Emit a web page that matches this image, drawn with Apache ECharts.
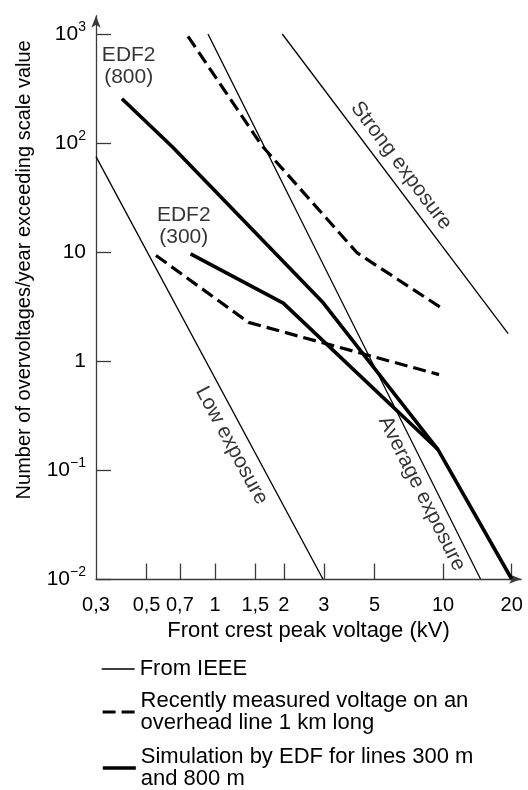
<!DOCTYPE html>
<html><head><meta charset="utf-8">
<script src="https://cdn.jsdelivr.net/npm/echarts@6/dist/echarts.min.js"></script>
<style>html,body{margin:0;padding:0;background:#fff}#c{width:528px;height:790px}</style>
</head><body><div id="c"></div>
<script>
// Axis ticks and labels
const xTicks = [0.3, 0.5, 0.7, 1, 1.5, 2, 3, 5, 10, 20];
const xTickLabels = ['0,3', '0,5', '0,7', '1', '1,5', '2', '3', '5', '10', '20'];
const yTicks = [0.01, 0.1, 1, 10, 100, 1000];
const yTickBase = ['10', '10', '1', '10', '10', '10'];
const yTickExp = ['−2', '−1', '', '', '2', '3'];

// IEEE exposure lines [kV, overvoltages/year]
const ieeeLow = [[0.3, 75], [2.97, 0.01]];
const ieeeAverage = [[0.93, 1000], [14.6, 0.01]];
const ieeeStrong = [[1.97, 1000], [19.3, 1.78]];
// Recently measured (dashed)
const measuredA = [[0.76, 950], [1.6, 95], [4.2, 9.8], [10.0, 3.0]];
const measuredB = [[0.55, 9.3], [1.4, 2.26], [9.6, 0.75]];
// EDF simulations (thick)
const edf800 = [[0.39, 255], [0.65, 92], [2.95, 3.5], [9.5, 0.154], [20, 0.01]];
const edf300 = [[0.78, 9.6], [1.99, 3.4], [9.5, 0.154]];

// Legend names
const legendNames = ['From IEEE', 'Recently measured voltage on an\noverhead line 1 km long', 'Simulation by EDF for lines 300 m\nand 800 m'];

// In-chart labels
const curveLabels = ['Strong exposure', 'Low exposure', 'Average exposure', 'EDF2\n(800)', 'EDF2\n(300)'];
const labelX = [6.55, 1.18, 8.07, 0.4175, 0.728];
const labelY = [61.9, 0.168, 0.0607, 506, 17.4];
const labelAngle = [-53.1, -61.7, -63.4, 0, 0];

const FONT = "'Liberation Sans', Arial, sans-serif";
const AXC = '#3a3a3a';

function lineSeries(name, data, style) {
  return { type: 'line', name: name, data: data, symbol: 'none', showSymbol: false, silent: true,
    lineStyle: Object.assign({ color: '#000' }, style), itemStyle: { color: '#000' } };
}
const thinS = { width: 1.3 };
const dashS = { width: 3.2, type: [13, 6] };
const thickS = { width: 3.6, cap: 'butt' };

function legendFor(i, top) {
  return {
    show: true, orient: 'vertical', left: 101, top: top, padding: 0,
    itemWidth: 33, itemHeight: 14, itemGap: 0,
    data: [legendNames[i]],
    itemStyle: { opacity: 0 },
    lineStyle: { width: 'inherit', type: 'inherit', color: '#000' },
    textStyle: { fontFamily: FONT, fontSize: 22, lineHeight: 22, color: '#000' },
    selectedMode: false
  };
}

const chart = echarts.init(document.getElementById('c'), null, { renderer: 'canvas' });
chart.setOption({
  animation: false,
  backgroundColor: '#fff',
  grid: { left: 96, right: 6.9, top: 15.7, bottom: 211, containLabel: false },
  xAxis: {
    type: 'log', min: 0.3, max: 22, logBase: 10,
    name: 'Front crest peak voltage (kV)', nameLocation: 'middle', nameGap: 37,
    nameTextStyle: { fontFamily: FONT, fontSize: 22, color: '#000' },
    axisLine: { show: true, lineStyle: { color: AXC, width: 1.3 }, symbol: ['none', 'arrow'], symbolSize: [7, 12] },
    axisTick: { show: true, inside: true, length: 15.5, customValues: xTicks.slice(1), lineStyle: { color: AXC, width: 1.3 } },
    axisLabel: { show: true, customValues: xTicks, margin: 16, fontFamily: FONT, fontSize: 20, color: '#000',
      formatter: function (v) { const i = xTicks.findIndex(t => Math.abs(t - v) < 1e-9); return i >= 0 ? xTickLabels[i] : ''; } },
    splitLine: { show: false }, minorTick: { show: false }
  },
  yAxis: {
    type: 'log', min: 0.01, max: 1472, logBase: 10,
    name: 'Number of overvoltages/year exceeding scale value', nameLocation: 'middle', nameGap: 62,
    nameTextStyle: { fontFamily: FONT, fontSize: 20, color: '#000', padding: [0, 0, 0, 55] },
    axisLine: { show: true, lineStyle: { color: AXC, width: 1.3 }, symbol: ['none', 'arrow'], symbolSize: [7, 12] },
    axisTick: { show: true, inside: true, length: 15, customValues: yTicks, lineStyle: { color: AXC, width: 1.3 } },
    axisLabel: { show: true, customValues: yTicks, margin: 10, color: '#000',
      formatter: function (v) {
        const i = yTicks.findIndex(t => Math.abs(Math.log10(t) - Math.log10(v)) < 1e-6);
        if (i < 0) return '';
        return '{b|' + yTickBase[i] + '}' + (yTickExp[i] ? '{s|' + yTickExp[i] + '}' : '');
      },
      rich: {
        b: { fontFamily: FONT, fontSize: 21, color: '#000' },
        s: { fontFamily: FONT, fontSize: 14, color: '#000', padding: [0, 0, 14, 0] }
      }
    },
    splitLine: { show: false }, minorTick: { show: false }
  },
  legend: [legendFor(0, 658), legendFor(1, 690), legendFor(2, 746)],
  series: [
    lineSeries(legendNames[0], ieeeLow, thinS),
    lineSeries(legendNames[0], ieeeAverage, thinS),
    lineSeries(legendNames[0], ieeeStrong, thinS),
    lineSeries(legendNames[1], measuredA, dashS),
    lineSeries(legendNames[1], measuredB, dashS),
    lineSeries(legendNames[2], edf800, thickS),
    lineSeries(legendNames[2], edf300, thickS),
    {
      type: 'scatter', silent: true, symbolSize: 0, itemStyle: { color: '#000' },
      data: labelX.map(function (x, i) {
        return { value: [x, labelY[i]], label: { formatter: curveLabels[i], rotate: labelAngle[i] } };
      }),
      label: { show: true, position: 'inside', fontFamily: FONT, fontSize: 21, lineHeight: 22, color: '#000',
        textBorderWidth: 0, align: 'center', verticalAlign: 'middle' }
    }
  ]
});
</script></body></html>
